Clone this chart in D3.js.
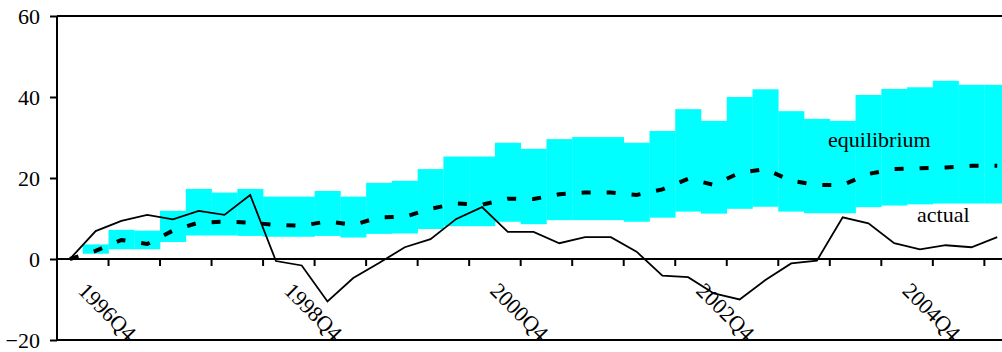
<!DOCTYPE html>
<html>
<head>
<meta charset="utf-8">
<script src="https://cdn.jsdelivr.net/npm/d3@7"></script>
<style>
  html, body { margin: 0; padding: 0; background: #fff; }
  svg { display: block; }
  svg text { font-family: "Liberation Serif", "Times New Roman", Times, "Nimbus Roman", "Nimbus Roman No9 L", FreeSerif, "DejaVu Serif", "Noto Serif", serif; }
</style>
</head>
<body>
<svg id="chart" width="1002" height="352"></svg>
<script>
const categories = [
  "1996Q4","1997Q1","1997Q2","1997Q3","1997Q4","1998Q1","1998Q2","1998Q3","1998Q4",
  "1999Q1","1999Q2","1999Q3","1999Q4","2000Q1","2000Q2","2000Q3","2000Q4",
  "2001Q1","2001Q2","2001Q3","2001Q4","2002Q1","2002Q2","2002Q3","2002Q4",
  "2003Q1","2003Q2","2003Q3","2003Q4","2004Q1","2004Q2","2004Q3","2004Q4",
  "2005Q1","2005Q2","2005Q3","2005Q4"
];
const bandLower = [0, 1.3, 2.4, 2.4, 4.2, 5.8, 5.8, 5.7, 5.5, 5.5, 5.7, 5.3, 6.2, 6.3, 7.4, 8.1, 8.1,
  9.2, 8.6, 9.6, 9.6, 9.6, 9.2, 10.2, 11.7, 11.2, 12.4, 12.9, 11.7, 11.3, 11.3, 12.8, 13.2,
  13.5, 13.7, 13.7, 13.7];
const bandUpper = [0, 3.6, 7.2, 7.0, 11.9, 17.3, 16.4, 17.3, 15.4, 15.4, 16.8, 15.4, 18.8, 19.3, 22.2, 25.3, 25.3,
  28.7, 27.2, 29.6, 30.1, 30.1, 28.7, 31.6, 37.0, 34.1, 40.0, 41.9, 36.5, 34.6, 34.1, 40.5, 42.0,
  42.4, 44.0, 43.0, 43.0];
const equilibrium = [0, 2.0, 4.7, 3.7, 7.0, 9.0, 9.2, 9.0, 8.4, 8.2, 9.3, 8.4, 10.3, 10.4, 12.4, 13.7, 13.4,
  14.9, 14.8, 16.0, 16.4, 16.4, 15.8, 17.2, 19.8, 18.3, 21.3, 22.2, 19.3, 18.3, 18.3, 21.0, 22.2,
  22.4, 22.6, 23.0, 23.0];
const actual = [0, 6.9, 9.4, 10.9, 9.8, 11.9, 10.9, 15.8, -0.5, -1.6, -10.5, -4.7, -1.0, 2.9, 4.9, 9.9, 12.8,
  6.7, 6.7, 3.9, 5.4, 5.4, 1.8, -4.1, -4.5, -8.5, -10.0, -5.2, -1.1, -0.4, 10.3, 8.8, 3.9,
  2.4, 3.4, 2.9, 5.4];
const yTicks = [-20, 0, 20, 40, 60];
const xTickLabels = ["1996Q4", "1998Q4", "2000Q4", "2002Q4", "2004Q4"];

const svg = d3.select("#chart");
const mLeft = 57, mTop = 16, mBottom = 340, bw = 25.76;
const mRight = mLeft + bw * categories.length;

const x = d3.scaleBand().domain(categories).range([mLeft, mRight]).padding(0);
const y = d3.scaleLinear().domain([-20, 60]).range([mBottom, mTop]);
const cx = d => x(d) + x.bandwidth() / 2;

const g = svg.append("g");

g.selectAll("rect.band").data(categories).join("rect")
  .attr("class", "band")
  .attr("x", d => x(d))
  .attr("width", x.bandwidth() + 0.3)
  .attr("y", (d, i) => y(bandUpper[i]))
  .attr("height", (d, i) => y(bandLower[i]) - y(bandUpper[i]))
  .attr("fill", "#00ffff");

g.append("path")
  .datum(categories)
  .attr("fill", "none")
  .attr("stroke", "#000")
  .attr("stroke-width", 4)
  .attr("stroke-dasharray", "9,16")
  .attr("d", d3.line().x(d => cx(d)).y((d, i) => y(equilibrium[i])));

g.append("path")
  .datum(categories)
  .attr("fill", "none")
  .attr("stroke", "#000")
  .attr("stroke-width", 1.8)
  .attr("d", d3.line().x(d => cx(d)).y((d, i) => y(actual[i])));

g.append("line").attr("x1", mLeft).attr("x2", mRight).attr("y1", y(60)).attr("y2", y(60))
  .attr("stroke", "#000").attr("stroke-width", 2);
g.append("line").attr("x1", mLeft).attr("x2", mRight).attr("y1", y(-20)).attr("y2", y(-20))
  .attr("stroke", "#000").attr("stroke-width", 2);

const yAxis = g.append("g").attr("transform", `translate(${mLeft},0)`)
  .call(d3.axisLeft(y).tickValues(yTicks).tickSize(7).tickPadding(10).tickFormat(d3.format("d")));
yAxis.attr("font-family", null).attr("font-size", null);
yAxis.select(".domain").attr("stroke-width", 2).attr("d", `M0,${mTop}V${mBottom}`);
yAxis.selectAll(".tick line").attr("stroke-width", 2);
yAxis.selectAll(".tick text").attr("font-size", 22).attr("fill", "#000");

g.append("line").attr("x1", mLeft).attr("x2", mRight).attr("y1", y(0)).attr("y2", y(0))
  .attr("stroke", "#000").attr("stroke-width", 2);
const tickCats = categories.filter((d, i) => i % 2 === 0 && i > 0);
g.selectAll("line.xt").data(tickCats).join("line")
  .attr("class", "xt")
  .attr("x1", d => x(d)).attr("x2", d => x(d))
  .attr("y1", y(0)).attr("y2", y(0) + 7)
  .attr("stroke", "#000").attr("stroke-width", 2);

g.selectAll("text.xl").data(xTickLabels).join("text")
  .attr("class", "xl")
  .attr("font-size", 22)
  .attr("transform", d => `translate(${cx(d) + 7},${292}) rotate(45)`)
  .text(d => d);

g.append("text").attr("x", 828).attr("y", 147).attr("font-size", 22).text("equilibrium");
g.append("text").attr("x", 917).attr("y", 222).attr("font-size", 22).text("actual");
</script>
</body>
</html>
